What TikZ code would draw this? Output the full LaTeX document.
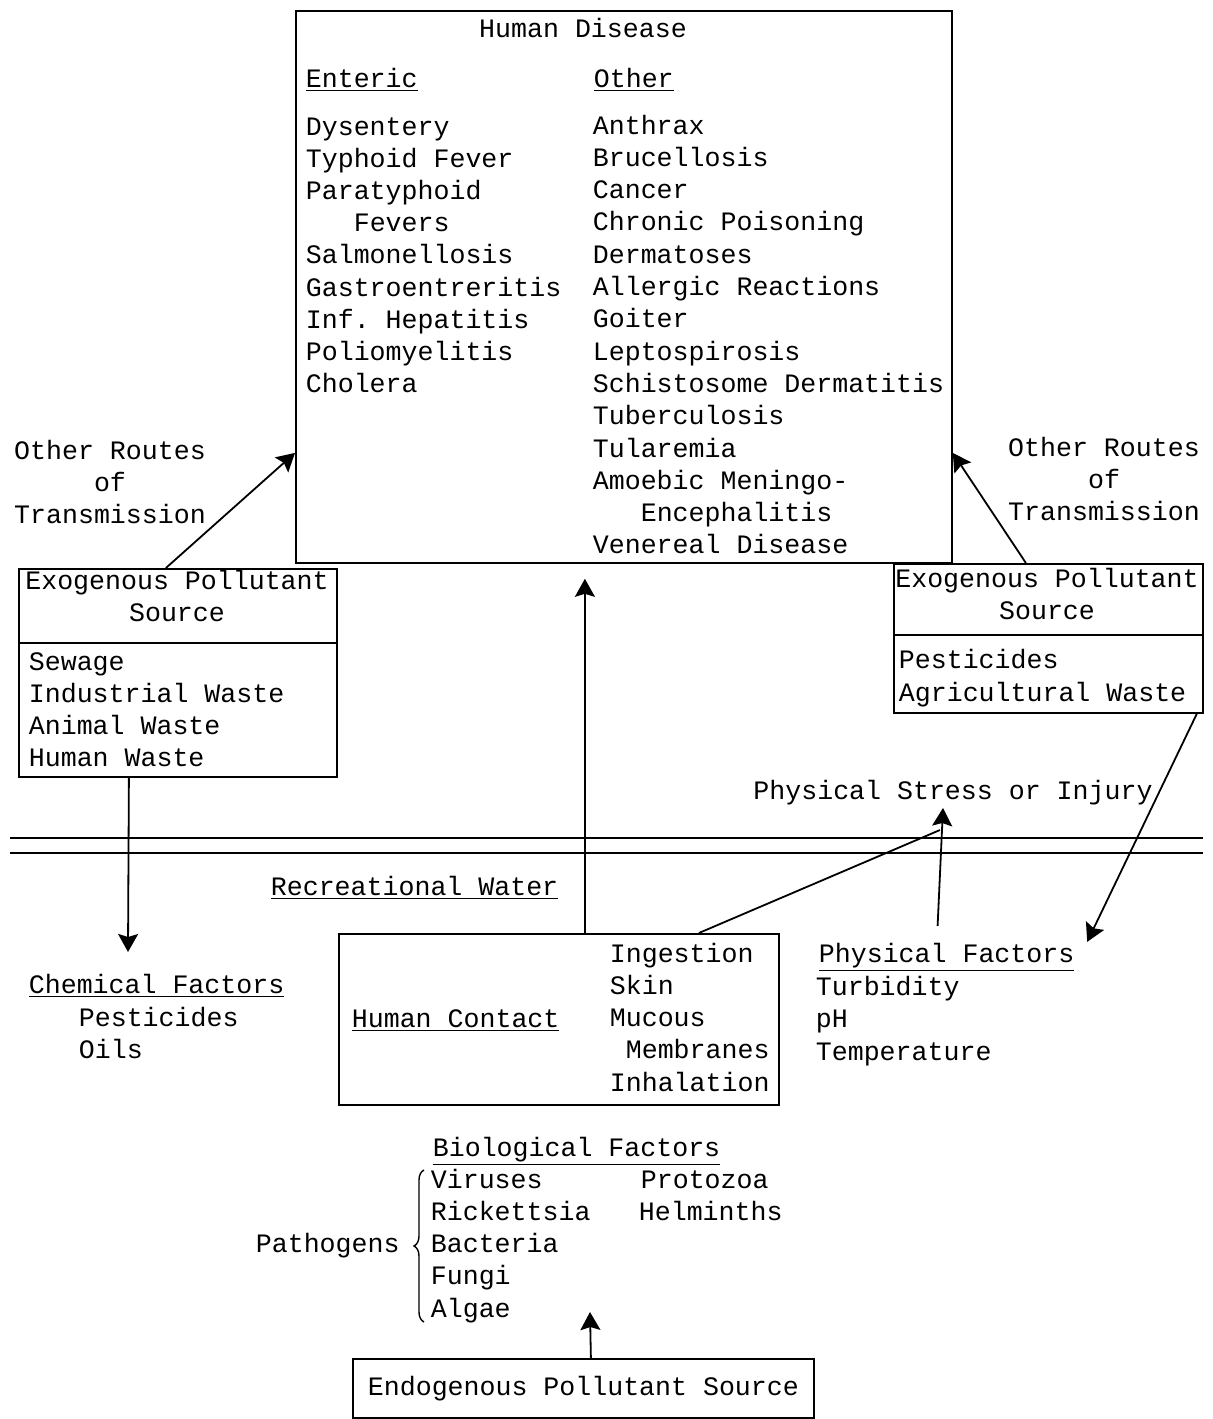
\documentclass[tikz,border=0pt]{standalone}
\usepackage{fontspec}
\setmonofont{Liberation Mono}
\usetikzlibrary{arrows.meta, decorations.pathreplacing}

\newcommand{\hd}[1]{\underline{#1}}

\begin{document}
\begin{tikzpicture}[
    x=0.5pt, y=-0.5pt,
    line width=0.9pt,
    >={Stealth[length=9pt,width=10pt,inset=1.5pt]},
    every node/.style={font=\ttfamily\fontsize{13.3}{16}\selectfont, inner sep=0pt},
    item/.style={anchor=base west},
    mid/.style={anchor=base, align=center},
    box/.style={draw, anchor=north west}
]
\useasboundingbox (0,0) rectangle (1213,1419);

% boxes
\node[box, minimum width=328pt, minimum height=276pt] (dis) at (295,10) {};
\node[box, minimum width=159pt, minimum height=104pt] (exoL) at (18,568) {};
\node[box, minimum width=154.5pt, minimum height=74.5pt] (exoR) at (893,563) {};
\node[box, minimum width=220pt, minimum height=85.5pt] (hc) at (338,933) {};
\node[box, minimum width=230.5pt, minimum height=29.5pt] (endo) at (352,1358) {Endogenous Pollutant Source};
\draw ([yshift=-37.5pt]exoL.north west) -- ([yshift=-37.5pt]exoL.north east);
\draw ([yshift=-36pt]exoR.north west) -- ([yshift=-36pt]exoR.north east);

% human disease
\node[mid] (hdis) at (583,37) {Human Disease};
\node[item] (ent) at (305,87) {\hd{Enteric}};
\node[item] (oth) at (593,87) {\hd{Other}};
\foreach \t [count=\i from 0] in {Dysentery, Typhoid Fever, Paratyphoid,
    \phantom{Par}Fevers, Salmonellosis, Gastroentreritis, Inf. Hepatitis,
    Poliomyelitis, Cholera}
  \node[item] (ent\i) at (305,{135+32.2*\i}) {\t};
\foreach \t [count=\i from 0] in {Anthrax, Brucellosis, Cancer, Chronic Poisoning,
    Dermatoses, Allergic Reactions, Goiter, Leptospirosis, Schistosome Dermatitis,
    Tuberculosis, Tularemia, Amoebic Meningo-, \phantom{Amo}Encephalitis,
    Venereal Disease}
  \node[item] (oth\i) at (592,{134+32.3*\i}) {\t};

% sources
\node[mid] (routeL) at (110,523) {Other Routes\\of\\Transmission};
\node[mid] (routeR) at (1104,520) {Other Routes\\of\\Transmission};
\node[mid] (exoLt) at (177,621) {Exogenous Pollutant\\Source};
\node[mid] (exoRt) at (1047,619) {Exogenous Pollutant\\Source};
\foreach \t [count=\i from 0] in {Sewage, Industrial Waste, Animal Waste, Human Waste}
  \node[item] (srcL\i) at (28,{670+32.3*\i}) {\t};
\foreach \t [count=\i from 0] in {Pesticides, Agricultural Waste}
  \node[item] (srcR\i) at (898,{668+33*\i}) {\t};

% water
\draw (10,838) -- (1203,838);
\draw (10,853) -- (1203,853);
\node[mid] (stress) at (953,799) {Physical Stress or Injury};
\node[item] (rec) at (270,895) {\hd{Recreational Water}};
\node[item] (hcon) at (351,1027) {\hd{Human Contact}};
\foreach \t [count=\i from 0] in {Ingestion, Skin, Mucous, \phantom{M}Membranes, Inhalation}
  \node[item] (rt\i) at (609,{962+32.3*\i}) {\t};

% factors
\node[item] (chf) at (28,993) {\hd{Chemical Factors}};
\node[item] (chf0) at (78,1026) {Pesticides};
\node[item] (chf1) at (78,1058) {Oils};
\node[item] (phf) at (818,962) {\hd{Physical Factors}};
\foreach \t [count=\i from 0] in {Turbidity, pH, Temperature}
  \node[item] (phf\i) at (815,{995+32.5*\i}) {\t};
\node[item] (bif) at (432,1156) {\hd{Biological Factors}};
\foreach \t [count=\i from 0] in {Viruses, Rickettsia, Bacteria, Fungi, Algae}
  \node[item] (pat\i) at (430,{1188+32.3*\i}) {\t};
\node[item] (pro) at (640,1188) {Protozoa};
\node[item] (hel) at (638,1220) {Helminths};
\node[item] (path) at (255,1252) {Pathogens};
\draw[line width=0.7pt, decorate, decoration={brace, amplitude=5pt}] (424,1322) -- (424,1170);

% connectors
\coordinate (chemTip) at (128,952);
\coordinate (stressTip) at (943,808);
\coordinate (stressJoin) at (940,830);
\coordinate (algTip) at (590,1312);
\draw[->] ([xshift=-6pt]exoL.north) -- ([yshift=-83pt]dis.west);
\draw[->] ([xshift=-11.25pt]exoR.north) -- ([yshift=-83pt]dis.east);
\draw[->] ([xshift=-24.5pt]exoL.south) -- (chemTip);
\draw[->] ([xshift=-3.5pt]exoR.south east) -- ([xshift=6pt]phf.north east);
\draw[->] ([xshift=-4.5pt, yshift=8pt]phf.north) -- (stressTip);
\draw ([xshift=70pt]hc.north) -- (stressJoin);
\draw[->, shorten >=7.5pt] ([xshift=13pt]hc.north) -- ([xshift=-19.5pt]dis.south);
\draw[->] ([xshift=3.75pt]endo.north) -- (algTip);

\end{tikzpicture}
\end{document}
